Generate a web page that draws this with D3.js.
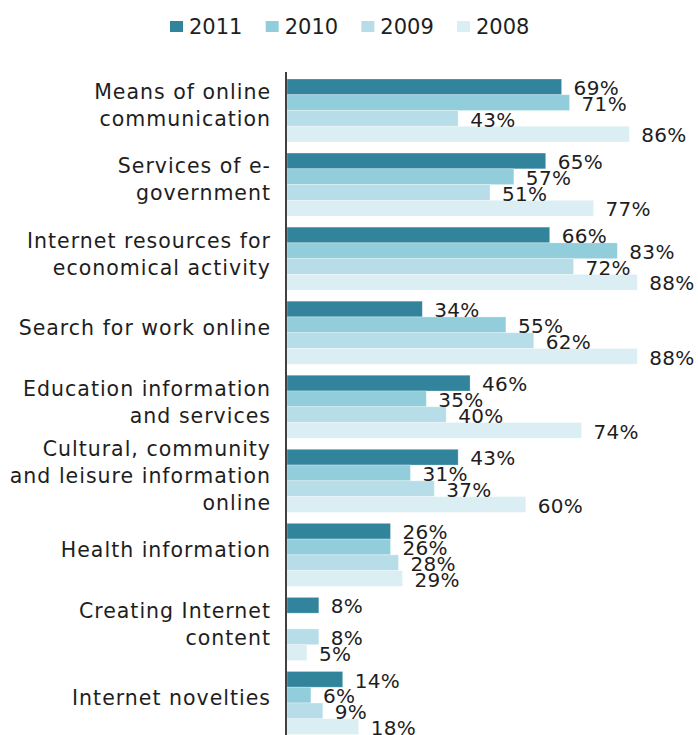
<!DOCTYPE html>
<html>
<head>
<meta charset="utf-8">
<script src="https://cdn.jsdelivr.net/npm/d3@7"></script>
<style>
  html, body { margin: 0; padding: 0; background: #fff; }
  svg { display: block; }
  text { font-family: "DejaVu Sans", Verdana, sans-serif; fill: #1e1e1e; }
</style>
</head>
<body>
<svg id="chart" width="698" height="735"></svg>
<script>
// ---- data ----
const categories = [
  "Means of online\ncommunication",
  "Services of e-\ngovernment",
  "Internet resources for\neconomical activity",
  "Search for work online",
  "Education information\nand services",
  "Cultural, community\nand leisure information\nonline",
  "Health information",
  "Creating Internet\ncontent",
  "Internet novelties"
];
const seriesNames = ["2011", "2010", "2009", "2008"];
const values2011 = [69, 65, 66, 34, 46, 43, 26, 8, 14];
const values2010 = [71, 57, 83, 55, 35, 31, 26, null, 6];
const values2009 = [43, 51, 72, 62, 40, 37, 28, 8, 9];
const values2008 = [86, 77, 88, 88, 74, 60, 29, 5, 18];
const seriesColors = ["#31849B", "#92CDDC", "#B7DEE8", "#DAEEF3"];

const seriesValues = [values2011, values2010, values2009, values2008];
const rows = categories.map((c, i) => ({
  category: c,
  values: seriesNames.map((s, j) => ({ series: s, value: seriesValues[j][i] }))
}));

// ---- layout ----
const svg = d3.select("#chart");
const x = d3.scaleLinear().domain([0, 100]).range([287, 685]);
const y = d3.scaleBand().domain(categories).range([79, 734.5])
  .paddingInner(11 / 74).paddingOuter(0);
const ySub = d3.scaleBand().domain(seriesNames).range([0, y.bandwidth()]);
const color = d3.scaleOrdinal().domain(seriesNames).range(seriesColors);

// bars
const groups = svg.append("g").selectAll("g")
  .data(rows).join("g")
  .attr("transform", d => `translate(0,${y(d.category)})`);

groups.selectAll("rect")
  .data(d => d.values.filter(v => v.value != null))
  .join("rect")
  .attr("x", x(0))
  .attr("y", d => ySub(d.series))
  .attr("width", d => x(d.value) - x(0))
  .attr("height", ySub.bandwidth())
  .attr("fill", d => color(d.series))
  .attr("stroke", "#ffffff")
  .attr("stroke-opacity", 0.35)
  .attr("stroke-width", 0.8);

// value labels
groups.selectAll("text.val")
  .data(d => d.values.filter(v => v.value != null))
  .join("text")
  .attr("class", "val")
  .attr("x", d => x(d.value) + 12)
  .attr("y", d => ySub(d.series) + ySub.bandwidth() / 2 + 1)
  .attr("dy", "0.36em")
  .style("font-size", "20px")
  .style("letter-spacing", "0.3px")
  .text(d => d.value + "%");

// axis line
const yAxis = d3.axisLeft(y).tickSize(0).tickFormat(() => "");
const axisG = svg.append("g").attr("transform", `translate(286,0)`).call(yAxis);
axisG.select(".domain")
  .attr("d", "M0,72V735")
  .attr("stroke", "#111")
  .attr("stroke-width", 1.6);

// category labels
const lineH = 27;
const catG = svg.append("g");
categories.forEach(c => {
  const lines = c.split("\n");
  const cy = y(c) + y.bandwidth() / 2 - 5;
  const t = catG.append("text")
    .attr("text-anchor", "end")
    .style("font-size", "20.5px")
    .style("letter-spacing", "1px");
  lines.forEach((ln, k) => {
    t.append("tspan")
      .attr("x", 271)
      .attr("y", cy + (k - (lines.length - 1) / 2) * lineH)
      .attr("dy", "0.36em")
      .text(ln);
  });
});

// legend
const legend = svg.append("g");
const legendX = d3.scalePoint().domain(seriesNames).range([170, 457]);
const li = legend.selectAll("g").data(seriesNames).join("g")
  .attr("transform", d => `translate(${legendX(d)},0)`);
li.append("rect")
  .attr("x", 0).attr("y", 21)
  .attr("width", 13).attr("height", 11)
  .attr("fill", d => color(d));
li.append("text")
  .attr("x", 19).attr("y", 26.5)
  .attr("dy", "0.36em")
  .style("font-size", "21px")
  .text(d => d);
</script>
</body>
</html>
